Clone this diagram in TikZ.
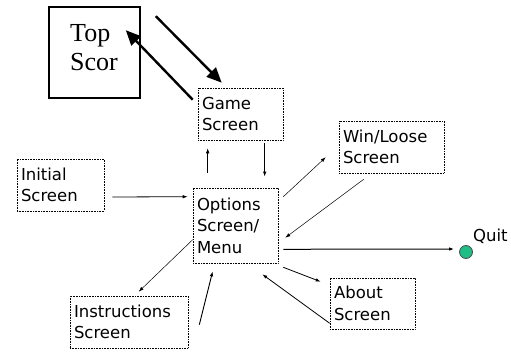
\documentclass[tikz,border=0pt]{standalone}
\usepackage{fontspec}
\setmainfont{DejaVu Sans}
\newfontfamily\timesfont{Liberation Serif}
\usetikzlibrary{calc,arrows.meta}
\definecolor{quitgreen}{RGB}{32,190,135}

\begin{document}
\begin{tikzpicture}[x=1pt,y=-1pt,
    screen/.style={draw, densely dotted, line width=.6pt, inner sep=0pt, align=left,
        font=\fontsize{16.5}{21.5}\selectfont},
    link/.style={-{Latex[length=5pt,width=3.5pt]}, line width=.5pt},
    biglink/.style={-{Triangle[length=15pt,width=13pt]}, line width=2.4pt}]
    \useasboundingbox (0,0) rectangle (511,352);

    % boxes
    \node[draw, line width=1.6pt, minimum width=91, minimum height=91, inner sep=0pt] (top) at (94.5,52.5) {};
    \node[anchor=north west, align=left, inner sep=0pt, font=\timesfont\fontsize{26}{29}\selectfont] (toptext) at (70,24) {Top\\Scor};

    \node[screen, minimum width=85, minimum height=52, text width=77] (game) at (240.5,114) {Game\\Screen};
    \node[screen, minimum width=87, minimum height=52, text width=79] (init) at (60.5,185) {Initial\\Screen};
    \node[screen, minimum width=85, minimum height=75, text width=77] (opt) at (235.5,225.5) {Options\\Screen/\\Menu};
    \node[screen, minimum width=105, minimum height=52, text width=97] (win) at (391.5,147) {Win/Loose\\Screen};
    \node[screen, minimum width=85, minimum height=51, text width=77] (about) at (372.5,303.5) {About\\Screen};
    \node[screen, minimum width=118, minimum height=52, text width=110] (instr) at (129,322) {Instructions\\Screen};

    \node[circle, draw=black!70, fill=quitgreen, line width=.8pt, minimum size=13, inner sep=0pt] (quit) at (466,252) {};
    \node[anchor=south west, inner sep=0pt, font=\fontsize{16.5}{21}\selectfont] (quittext) at (473,244) {Quit};

    % arrows
    \draw[biglink] ($(top.north east)+(15,10)$) -- ($(game.north west)+(24,-5)$);
    \draw[biglink] ($(game.north west)+(-5,12)$) -- ($(top.north east)+(-15,24)$);

    \draw[link] ($(opt.north west)+(15,-15)$) -- ($(game.south west)+(10,8)$);
    \draw[link, line width=.9pt] ($(game.south west)+(67,3)$) -- ($(opt.north west)+(72,-11)$);
    \draw[link, line width=.8pt] ($(init.east)+(8,12)$) -- ($(opt.north west)+(-5,9)$);
    \draw[link] ($(opt.north east)+(5,9)$) -- ($(win.south west)+(-13,-16)$);
    \draw[link] ($(win.south west)+(25,6)$) -- ($(opt.north east)+(7,50)$);
    \draw[link, line width=1pt] ($(opt.south east)+(5,-14)$) -- ($(quit.west)+(-5,-3)$);
    \draw[link, line width=.8pt] ($(opt.south east)+(5,4)$) -- ($(about.north west)+(-9,4)$);
    \draw[link, line width=.8pt] ($(about.south west)+(0,-6)$) -- ($(opt.south east)+(-16,11)$);
    \draw[link] ($(opt.north west)+(0,52)$) -- ($(instr.north west)+(69,-4)$);
    \draw[link, line width=.9pt] ($(instr.north east)+(11,29)$) -- ($(opt.south west)+(20,8)$);
\end{tikzpicture}
\end{document}
